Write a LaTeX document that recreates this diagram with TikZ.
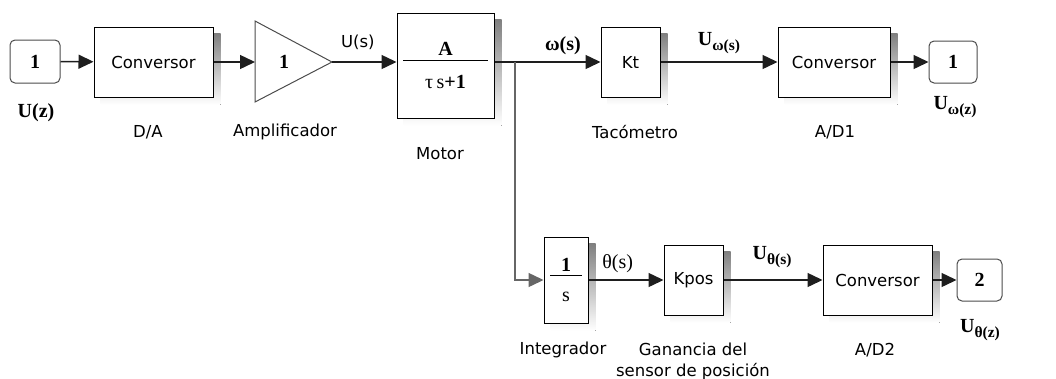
\documentclass[tikz,border=0pt]{standalone}
\usepackage{amsmath}
\usepackage{fontspec}
\setmainfont{Liberation Serif}
\setsansfont{DejaVu Sans}
\usepackage{tikz}
\usetikzlibrary{arrows.meta,positioning,backgrounds,calc}
\definecolor{wire}{RGB}{30,30,30}
\definecolor{shade}{RGB}{120,120,120}
\newcommand{\subsig}[2]{\textbf{#1}\raisebox{-5pt}{\fontsize{15.5}{15.5}\selectfont #2}}

\begin{document}
\begin{tikzpicture}[x=1pt, y=-1pt]
\tikzstyle{block} = [rectangle, draw=black, line width=1pt, fill=white, inner sep=0pt, font=\sffamily\fontsize{16.5}{18}\selectfont]
\tikzstyle{port} = [rectangle, rounded corners=5pt, draw=black!70, line width=1pt, fill=white, inner sep=0pt, font=\bfseries\fontsize{20}{22}\selectfont]
\tikzstyle{arrow} = [draw=wire, line width=1.4pt, ->, >={Triangle[length=15pt,width=14pt]}]
\tikzstyle{caption} = [font=\sffamily\fontsize{16.5}{21}\selectfont, align=center]
\tikzstyle{sig} = [font=\bfseries\fontsize{20}{22}\selectfont, inner sep=0pt]
\useasboundingbox (0,0) rectangle (1056,378);

% upper chain
\node (In1) [port, minimum width=50pt, minimum height=43pt] at (35,61.5) {1};
\node (DA) [block, minimum width=119pt, minimum height=70pt] at (153.5,62) {Conversor};
\coordinate (AmpIn) at (255,62);
\coordinate (AmpOut) at (332,62);
\draw [line width=1pt, draw=black!70] (255,21) -- (AmpOut) -- (255,102) -- cycle;
\node (Amp) [sig] at (284,62) {1};
\node (Motor) [block, minimum width=97pt, minimum height=105pt, font=\fontsize{20}{22}\selectfont] at (445.5,65.5)
  {$\dfrac{\raisebox{-4pt}{\makebox[85pt]{\textbf{A}}}}{\raisebox{-9pt}{τ\,s\textbf{+1}}}$};
\coordinate (Branch) at (515,62);
\node (Kt) [block, minimum width=59pt, minimum height=70pt] at (630.5,62) {Kt};
\node (AD1) [block, minimum width=112pt, minimum height=70pt] at (834,62) {Conversor};
\node (Out1) [port, minimum width=48pt, minimum height=42pt] at (953,62) {1};

% lower chain
\node (Integ) [block, minimum width=44pt, minimum height=86pt, font=\fontsize{20}{22}\selectfont] at (566,280)
  {$\dfrac{\raisebox{-5pt}{\makebox[32pt]{\textbf{1}}}}{\raisebox{-6pt}{s}}$};
\node (Kpos) [block, minimum width=59pt, minimum height=70pt] at (693.5,280) {Kpos};
\node (AD2) [block, minimum width=109pt, minimum height=70pt] at (877.5,280) {Conversor};
\node (Out2) [port, minimum width=45pt, minimum height=42pt] at (979.5,280) {2};

% shadows behind the blocks
\begin{scope}[on background layer]
\foreach \blk in {DA,Motor,Kt,AD1,Integ,Kpos,AD2}
  \fill [shade] ($(\blk.north west)+(7,7)$) rectangle ($(\blk.south east)+(7,7)$);
\end{scope}

% connectors
\draw [arrow] (In1) -- (DA);
\draw [arrow] (DA) -- (AmpIn);
\draw [arrow] (AmpOut) -- node[pos=0.4, above=12pt, caption, inner sep=0pt] {U(s)} (AmpOut -| Motor.west);
\draw [draw=wire, line width=1.4pt] (Motor.east |- Branch) -- (Branch);
\draw [arrow] (Branch) -- node[pos=0.56, above=7pt, sig] {ω(s)} (Kt);
\draw [arrow] (Kt) -- node[above=8pt, sig] {\subsig{U}{ω(s)}} (AD1);
\draw [arrow] (AD1) -- (Out1);
\draw [arrow, draw=black!60] (Branch) |- (Integ);
\draw [arrow] (Integ) -- node[pos=0.39, above=7pt, sig, font=\fontsize{20}{22}\selectfont] {θ(s)} (Kpos);
\draw [arrow] (Kpos) -- node[pos=0.49, above=12pt, sig] {\subsig{U}{θ(s)}} (AD2);
\draw [arrow] (AD2) -- (Out2);

% captions
\node (InLbl) [sig] at (36,113) {U(z)};
\node (DALbl) [caption] at (148,132) {D/A};
\node (AmpLbl) [caption] at (285,132) {Amplificador};
\node (MotorLbl) [caption] at (440,154) {Motor};
\node (KtLbl) [caption] at (635,132) {Tacómetro};
\node (AD1Lbl) [caption] at (835,132) {A/D1};
\node (Out1Lbl) [sig] at (955,107) {\subsig{U}{ω(z)}};
\node (IntegLbl) [caption] at (563,350) {Integrador};
\node (KposLbl) [caption] at (693,361) {Ganancia del\\sensor de posición};
\node (AD2Lbl) [caption] at (875,350) {A/D2};
\node (Out2Lbl) [sig] at (980,330) {\subsig{U}{θ(z)}};
\end{tikzpicture}
\end{document}
